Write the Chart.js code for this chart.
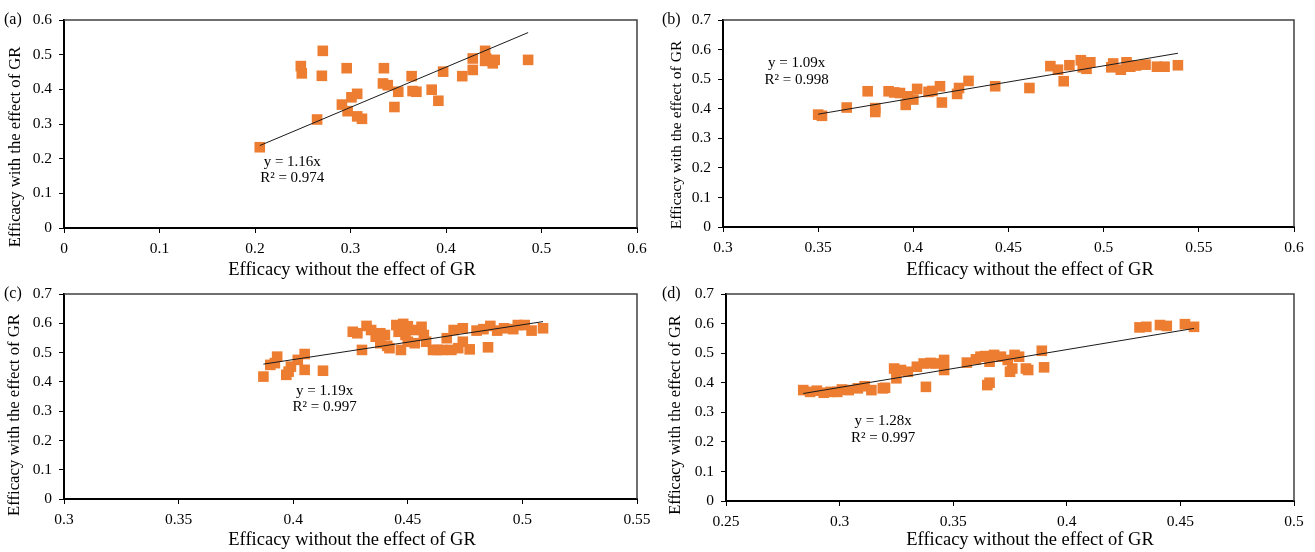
<!DOCTYPE html>
<html>
<head>
<meta charset="utf-8">
<script src="https://cdn.jsdelivr.net/npm/chart.js@4.4.0/dist/chart.umd.min.js"></script>
<style>
  body { margin: 0; background: #fff; width: 1315px; height: 552px; position: relative; overflow: hidden; }
  .panel { position: absolute; }
</style>
</head>
<body>
<div class="panel" style="left:0;top:0;width:658px;height:282px"><canvas id="chartA"></canvas></div>
<div class="panel" style="left:658px;top:0;width:657px;height:282px"><canvas id="chartB"></canvas></div>
<div class="panel" style="left:0;top:276px;width:658px;height:276px"><canvas id="chartC"></canvas></div>
<div class="panel" style="left:658px;top:276px;width:657px;height:276px"><canvas id="chartD"></canvas></div>
<script>
// efficacy without GR (x) vs efficacy with GR (y), one pair of arrays per panel
const aX = [0.205,0.265,0.248,0.249,0.271,0.270,0.296,0.291,0.297,0.301,0.307,0.307,0.312,0.335,0.334,0.339,0.350,0.346,0.364,0.365,0.369,0.385,0.392,0.397,0.417,0.428,0.428,0.441,0.442,0.441,0.449,0.451,0.486];
const aY = [0.233,0.313,0.467,0.446,0.511,0.439,0.461,0.356,0.337,0.377,0.387,0.322,0.315,0.461,0.417,0.412,0.393,0.349,0.438,0.395,0.393,0.399,0.367,0.451,0.438,0.456,0.489,0.511,0.489,0.482,0.475,0.485,0.485];

const bX = [0.350,0.352,0.365,0.376,0.380,0.380,0.387,0.390,0.393,0.396,0.397,0.400,0.402,0.408,0.410,0.414,0.415,0.423,0.424,0.429,0.443,0.461,0.472,0.476,0.479,0.482,0.488,0.490,0.493,0.491,0.489,0.505,0.504,0.509,0.512,0.514,0.517,0.522,0.528,0.532,0.539];
const bY = [0.380,0.376,0.404,0.459,0.402,0.389,0.459,0.455,0.453,0.413,0.442,0.431,0.467,0.457,0.460,0.476,0.421,0.450,0.470,0.494,0.476,0.470,0.544,0.532,0.493,0.547,0.564,0.553,0.557,0.535,0.540,0.553,0.540,0.532,0.557,0.542,0.546,0.549,0.542,0.542,0.547];

const cX = [0.387,0.390,0.393,0.392,0.397,0.398,0.399,0.402,0.405,0.405,0.413,0.426,0.428,0.430,0.432,0.434,0.436,0.438,0.440,0.438,0.441,0.442,0.445,0.446,0.447,0.448,0.449,0.450,0.450,0.453,0.453,0.456,0.457,0.458,0.461,0.463,0.465,0.467,0.469,0.470,0.472,0.474,0.474,0.477,0.480,0.483,0.485,0.486,0.489,0.492,0.496,0.498,0.501,0.504,0.509];
const cY = [0.418,0.458,0.486,0.464,0.424,0.435,0.452,0.475,0.495,0.441,0.438,0.571,0.566,0.509,0.591,0.577,0.554,0.566,0.560,0.532,0.523,0.515,0.594,0.571,0.509,0.598,0.560,0.537,0.590,0.577,0.532,0.588,0.560,0.537,0.509,0.509,0.509,0.549,0.509,0.577,0.515,0.583,0.537,0.511,0.575,0.580,0.518,0.591,0.575,0.583,0.580,0.594,0.594,0.575,0.583];

const dX = [0.284,0.287,0.290,0.293,0.296,0.299,0.301,0.304,0.308,0.311,0.314,0.319,0.320,0.324,0.325,0.327,0.330,0.334,0.338,0.337,0.340,0.342,0.346,0.346,0.356,0.360,0.362,0.364,0.366,0.366,0.365,0.368,0.371,0.374,0.375,0.377,0.376,0.379,0.382,0.383,0.389,0.390,0.432,0.435,0.441,0.444,0.452,0.456];
const dY = [0.375,0.369,0.373,0.366,0.369,0.369,0.377,0.375,0.381,0.388,0.375,0.381,0.383,0.448,0.415,0.443,0.437,0.454,0.386,0.465,0.467,0.465,0.477,0.443,0.468,0.479,0.488,0.490,0.471,0.400,0.392,0.494,0.488,0.477,0.437,0.494,0.448,0.488,0.448,0.443,0.508,0.452,0.587,0.589,0.595,0.592,0.598,0.589];

// fitted trendlines through the origin
const slopes = [1.16, 1.09, 1.19, 1.28];
const rSquared = ['0.974', '0.998', '0.997', '0.997'];

// axis ranges and tick steps
const xRanges = [[0, 0.6], [0.3, 0.6], [0.3, 0.55], [0.25, 0.5]];
const xSteps = [0.1, 0.05, 0.05, 0.05];
const yMaxes = [0.6, 0.7, 0.7, 0.7];
const panelTags = ['(a)', '(b)', '(c)', '(d)'];
const xTitle = 'Efficacy without the effect of GR';
const yTitle = 'Efficacy with the effect of GR';

const serif = '"Liberation Serif", "Times New Roman", serif';
const orange = '#ED7D31';

// plot-area box for each canvas (left offset, top/right padding, x-axis band height)
// plus where the axis titles and the equation sit
const panels = [
  { id: 'chartA', xs: aX, ys: aY, left: 64, top: 20, right: 21, xBand: 54,
    xTitleAt: [352, 270], yTitleAt: [16, 147], yTitleSize: 16.6, eqAt: [0.239, 0.191] },
  { id: 'chartB', xs: bX, ys: bY, left: 65, top: 20, right: 21, xBand: 55,
    xTitleAt: [372, 270], yTitleAt: [18.7, 135], yTitleSize: 15.6, eqAt: [0.3387, 0.553] },
  { id: 'chartC', xs: cX, ys: cY, left: 64, top: 18, right: 21, xBand: 53,
    xTitleAt: [352, 264], yTitleAt: [15, 139], yTitleSize: 16.7, eqAt: [0.4137, 0.370] },
  { id: 'chartD', xs: dX, ys: dY, left: 68, top: 18, right: 21, xBand: 51,
    xTitleAt: [372, 264], yTitleAt: [18, 139], yTitleSize: 16.5, eqAt: [0.3192, 0.270] },
];

const fmt = (v) => String(Math.round(v * 100) / 100);

// frame on the top and right of the plot area, axis titles, panel tag and equation text
const decorations = {
  id: 'decorations',
  afterDraw(chart, args, opts) {
    const { ctx, chartArea: a, scales } = chart;
    const p = opts.panel;
    ctx.save();
    ctx.strokeStyle = '#404040';
    ctx.lineWidth = 1.5;
    ctx.beginPath();
    ctx.moveTo(a.left, a.top);
    ctx.lineTo(a.right, a.top);
    ctx.lineTo(a.right, a.bottom);
    ctx.stroke();

    ctx.fillStyle = '#000';
    ctx.textBaseline = 'middle';

    ctx.font = '16px ' + serif;
    ctx.textAlign = 'left';
    ctx.fillText(opts.tag, 4, a.top);

    ctx.textAlign = 'center';
    ctx.font = '18.5px ' + serif;
    ctx.fillText(xTitle, p.xTitleAt[0], p.xTitleAt[1]);

    ctx.save();
    ctx.translate(p.yTitleAt[0], p.yTitleAt[1]);
    ctx.rotate(-Math.PI / 2);
    ctx.font = p.yTitleSize + 'px ' + serif;
    ctx.fillText(yTitle, 0, 0);
    ctx.restore();

    const ex = scales.x.getPixelForValue(p.eqAt[0]);
    const ey = scales.y.getPixelForValue(p.eqAt[1]);
    ctx.font = '15px ' + serif;
    ctx.fillText('y = ' + opts.slope.toFixed(2) + 'x', ex, ey);
    ctx.fillText('R\u00B2 = ' + opts.r2, ex, ey + 16.7);
    ctx.restore();
  }
};

panels.forEach((p, i) => {
  const points = p.xs.map((x, k) => ({ x: x, y: p.ys[k] }));
  const xLo = Math.min(...p.xs);
  const xHi = Math.max(...p.xs);
  const trend = [{ x: xLo, y: slopes[i] * xLo }, { x: xHi, y: slopes[i] * xHi }];

  new Chart(document.getElementById(p.id), {
    type: 'scatter',
    data: {
      datasets: [
        {
          label: 'Trendline',
          data: trend,
          showLine: true,
          borderColor: '#1a1a1a',
          borderWidth: 1,
          pointRadius: 0,
          order: 0,
        },
        {
          label: 'Efficacy',
          data: points,
          pointStyle: 'rect',
          pointRadius: 7.5,
          backgroundColor: orange,
          borderColor: orange,
          borderWidth: 0,
          order: 1,
        },
      ],
    },
    options: {
      responsive: true,
      maintainAspectRatio: false,
      animation: false,
      layout: { padding: { left: 0, top: p.top, right: p.right, bottom: 0 } },
      plugins: {
        legend: { display: false },
        tooltip: { enabled: false },
        decorations: { panel: p, tag: panelTags[i], slope: slopes[i], r2: rSquared[i] },
      },
      scales: {
        x: {
          type: 'linear',
          min: xRanges[i][0],
          max: xRanges[i][1],
          afterFit: (scale) => { scale.height = p.xBand; },
          ticks: {
            stepSize: xSteps[i],
            color: '#000',
            padding: 7,
            font: { family: serif, size: 15.5 },
            callback: fmt,
          },
          grid: { drawOnChartArea: false, drawTicks: true, tickLength: 5, color: '#000' },
          border: { color: '#000', width: 2 },
        },
        y: {
          type: 'linear',
          min: 0,
          max: yMaxes[i],
          afterFit: (scale) => { scale.width = p.left; },
          ticks: {
            stepSize: 0.1,
            color: '#000',
            padding: 7,
            font: { family: serif, size: 15.5 },
            callback: fmt,
          },
          grid: { drawOnChartArea: false, drawTicks: true, tickLength: 5, color: '#000' },
          border: { color: '#000', width: 2 },
        },
      },
    },
    plugins: [decorations],
  });
});
</script>
</body>
</html>
